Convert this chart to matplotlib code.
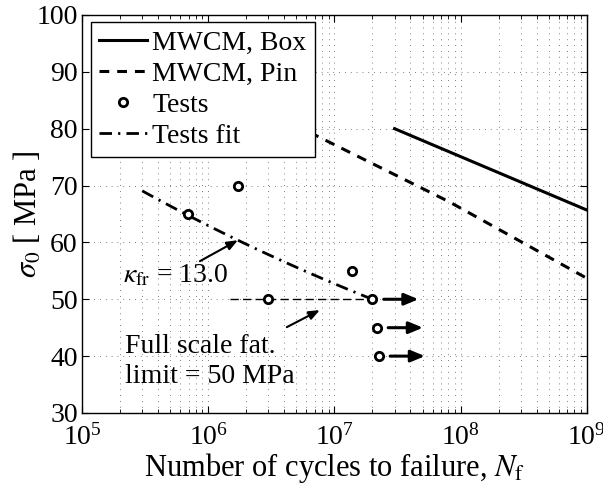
import numpy as np
import matplotlib
matplotlib.use("Agg")
import matplotlib.pyplot as plt
from matplotlib.ticker import LogLocator, NullFormatter, MultipleLocator

plt.rcParams["font.family"] = ["Liberation Serif", "DejaVu Serif"]
plt.rcParams["mathtext.fontset"] = "stix"
plt.rcParams["font.size"] = 20

# S-N curves from the model
box_N = [3.0e7, 1.0e9]
box_s = [80.0, 65.7]
pin_N = [2.0e6, 7.0e6, 8.2e7, 1.0e9]
pin_s = [84.9, 78.9, 67.1, 53.7]

# Test results (the last three are run-outs)
test_N = [6.9e5, 1.72e6, 3.0e6, 1.38e7, 2.0e7, 2.17e7, 2.25e7]
test_s = [65.0, 70.0, 50.0, 55.0, 50.0, 45.0, 40.0]
runout_N = [2.0e7, 2.17e7, 2.25e7]
runout_s = [50.0, 45.0, 40.0]

# Fitted Basquin curve through the tests
kappa_fr = 13.0
fit_ref_N, fit_ref_s = 2.0e7, 50.0
fit_N = np.logspace(np.log10(3.0e5), np.log10(2.0e7), 60)
fit_s = fit_ref_s * (fit_N / fit_ref_N) ** (-1.0 / kappa_fr)

# Full-scale fatigue limit
limit_s = 50.0
limit_N = [1.5e6, 2.0e7]

fig = plt.figure(figsize=(6.03, 4.92), dpi=100)
ax = fig.add_axes([0.136, 0.1606, 0.837, 0.809])

ax.set_xscale("log")
ax.set_xlim(1e5, 1e9)
ax.set_ylim(30, 100)
ax.yaxis.set_major_locator(MultipleLocator(10))
ax.xaxis.set_major_locator(LogLocator(base=10, numticks=10))
ax.xaxis.set_minor_locator(LogLocator(base=10, subs=np.arange(2, 10), numticks=20))
ax.xaxis.set_minor_formatter(NullFormatter())

grid_kw = dict(color="#555555", linewidth=0.6, linestyle=(0, (1, 6)))
ax.grid(True, which="major", axis="both", **grid_kw)
ax.grid(True, which="minor", axis="x", **grid_kw)
ax.set_axisbelow(True)

ax.tick_params(which="both", direction="in", top=True, right=True)
ax.tick_params(which="major", length=5, width=0.8, labelsize=20)
ax.tick_params(axis="y", which="major", pad=3)
ax.tick_params(axis="x", which="major", pad=8)
ax.tick_params(which="minor", length=3, width=0.6)
for sp in ax.spines.values():
    sp.set_linewidth(1.0)

ax.plot(box_N, box_s, color="black", lw=2.2, label="MWCM, Box")
ax.plot(pin_N, pin_s, color="black", lw=2.2, dashes=(3.2, 2.6), label="MWCM, Pin")
ax.plot(limit_N, [limit_s, limit_s], color="black", lw=1.0, dashes=(6, 3))
ax.plot(test_N, test_s, linestyle="none", marker="o", markersize=6,
        markerfacecolor="white", markeredgecolor="black", markeredgewidth=2,
        label="Tests", zorder=4)
ax.plot(fit_N, fit_s, color="black", lw=2.0, dashes=(4.5, 2.2, 0.8, 2.2), label="Tests fit")

# Run-out arrows
for n, s in zip(runout_N, runout_s):
    ax.annotate("", xy=(n * 2.32, s), xytext=(n * 1.23, s),
                arrowprops=dict(arrowstyle="-|>,head_length=0.6,head_width=0.25",
                                color="black", lw=2.2, mutation_scale=14,
                                shrinkA=0, shrinkB=0))

# Annotations
kappa_head_N = 1.72e6
kappa_head_s = fit_ref_s * (kappa_head_N / fit_ref_N) ** (-1.0 / kappa_fr)
ax.annotate("", xy=(kappa_head_N, kappa_head_s), xytext=(8.6e5, 56.7),
            arrowprops=dict(arrowstyle="-|>,head_length=0.5,head_width=0.2",
                            color="black", lw=1.5, mutation_scale=13,
                            shrinkA=0, shrinkB=0))
ax.text(2.1e5, 52.9, r"$\kappa_{\mathrm{fr}}$ = 13.0", ha="left", va="baseline")

ax.annotate("", xy=(7.67e6, 48.1), xytext=(4.2e6, 45.1),
            arrowprops=dict(arrowstyle="-|>,head_length=0.5,head_width=0.2",
                            color="black", lw=1.5, mutation_scale=13,
                            shrinkA=0, shrinkB=0))
ax.text(2.2e5, 40.6, "Full scale fat.", ha="left", va="baseline")
ax.text(2.2e5, 35.3, "limit = 50 MPa", ha="left", va="baseline")

ax.set_xlabel(r"Number of cycles to failure, $N_{\mathrm{f}}$", fontsize=22, labelpad=0)
ax.set_ylabel(r"$\sigma_0$ [ MPa ]", fontsize=22)
ax.yaxis.set_label_coords(-0.075, 0.5)

leg = ax.legend(loc="upper left", bbox_to_anchor=(0.018, 0.982), frameon=True,
                fancybox=False, edgecolor="black", framealpha=1.0,
                handlelength=1.7, handletextpad=0.2, labelspacing=0.2,
                borderpad=0.3, borderaxespad=0.0)
leg.get_frame().set_linewidth(1.0)

fig.savefig("out.png", dpi=100)
